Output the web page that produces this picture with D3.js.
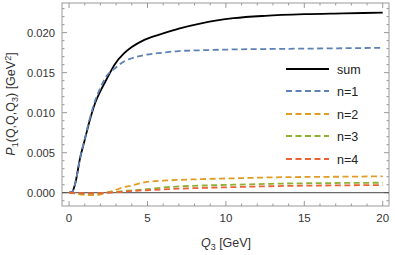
<!DOCTYPE html>
<html>
<head>
<meta charset="utf-8">
<script src="https://cdn.jsdelivr.net/npm/d3@7"></script>
<style>
body { margin: 0; background: #fff; }
text { font-family: "Liberation Sans", Arial, sans-serif; }
</style>
</head>
<body>
<script>
var q3 = [0, 0.2, 0.4, 0.7, 1.0, 1.3, 1.7, 2.0, 2.4, 2.9, 3.5, 4.0, 4.8, 6.0, 7.0, 8.5, 10.5, 12.5, 15, 17.5, 20];
var sum = [0, 0.0001, 0.0012, 0.0043, 0.0066, 0.0089, 0.0114, 0.0127, 0.0142, 0.0160, 0.0174, 0.0182, 0.0191, 0.0199, 0.0205, 0.0212, 0.0218, 0.0221, 0.0223, 0.0224, 0.0225];
var n1 = [0, 0.0001, 0.0012, 0.0043, 0.0067, 0.0091, 0.0117, 0.0131, 0.0146, 0.0155, 0.0164, 0.0168, 0.0172, 0.0175, 0.0177, 0.0178, 0.0179, 0.01795, 0.0180, 0.01805, 0.0181];
var n2 = [0, -0.00005, -0.0001, -0.0002, -0.00027, -0.0003, -0.0003, -0.00022, 0.0000, 0.0003, 0.0007, 0.0009, 0.0013, 0.0015, 0.0016, 0.0017, 0.0018, 0.0019, 0.00197, 0.0020, 0.00205];
var n3 = [0, -0.00002, -0.00005, -0.0001, -0.00012, -0.00012, -0.0001, -0.00006, 0.0000, 0.0001, 0.0002, 0.0003, 0.0004, 0.00065, 0.00078, 0.0009, 0.001, 0.0011, 0.00118, 0.00122, 0.00125];
var n4 = [0, -0.00001, -0.00003, -0.00006, -0.00008, -0.00008, -0.00006, -0.00004, 0.0000, 0.00005, 0.00012, 0.0002, 0.0003, 0.0004, 0.0005, 0.0006, 0.0007, 0.0008, 0.00088, 0.00092, 0.00096];

var seriesNames = ["sum", "n=1", "n=2", "n=3", "n=4"];
var seriesValues = [sum, n1, n2, n3, n4];
var seriesColors = ["#000000", "#5E81B5", "#E19C24", "#8FB032", "#EB6235"];

var xTicks = [0, 5, 10, 15, 20];
var yTicks = [0, 0.005, 0.010, 0.015, 0.020];

var W = 395, H = 255;
var pLeft = 62, pRight = 389, pTop = 3, pBottom = 206;

var svg = d3.select("body").append("svg").attr("width", W).attr("height", H);

var x = d3.scaleLinear().domain([-0.45, 20.4]).range([pLeft, pRight]);
var y = d3.scaleLinear().domain([-0.00166, 0.0237]).range([pBottom, pTop]);

var frameColor = "#999999";
var labelColor = "#333333";

// frame
svg.append("rect")
  .attr("x", pLeft).attr("y", pTop)
  .attr("width", pRight - pLeft).attr("height", pBottom - pTop)
  .attr("fill", "none").attr("stroke", frameColor).attr("stroke-width", 1);

// ticks on all sides, pointing inward
var xMinor = d3.range(0, 21, 1);
var yMinor = d3.range(-1, 24, 1).map(function(v){ return v / 1000; });

xMinor.forEach(function(v) {
  var major = xTicks.indexOf(v) >= 0;
  var len = major ? 5 : 2.5;
  svg.append("line").attr("x1", x(v)).attr("x2", x(v)).attr("y1", pBottom).attr("y2", pBottom - len)
    .attr("stroke", frameColor);
  svg.append("line").attr("x1", x(v)).attr("x2", x(v)).attr("y1", pTop).attr("y2", pTop + len)
    .attr("stroke", frameColor);
});
yMinor.forEach(function(v) {
  var major = Math.abs(Math.round(v * 1000) % 5) === 0;
  var len = major ? 5 : 2.5;
  svg.append("line").attr("x1", pLeft).attr("x2", pLeft + len).attr("y1", y(v)).attr("y2", y(v))
    .attr("stroke", frameColor);
  svg.append("line").attr("x1", pRight).attr("x2", pRight - len).attr("y1", y(v)).attr("y2", y(v))
    .attr("stroke", frameColor);
});

// tick labels
svg.selectAll("text.xt").data(xTicks).enter().append("text")
  .attr("class", "xt")
  .attr("x", function(d){ return x(d); })
  .attr("y", 222)
  .attr("text-anchor", "middle")
  .attr("font-size", 11.5)
  .attr("fill", labelColor)
  .text(function(d){ return d; });

svg.selectAll("text.yt").data(yTicks).enter().append("text")
  .attr("class", "yt")
  .attr("x", 55)
  .attr("y", function(d){ return y(d) + 4; })
  .attr("text-anchor", "end")
  .attr("font-size", 11.2)
  .attr("fill", labelColor)
  .text(function(d){ return d3.format(".3f")(d); });

// zero line
svg.append("line")
  .attr("x1", pLeft).attr("x2", pRight)
  .attr("y1", y(0)).attr("y2", y(0))
  .attr("stroke", "#444").attr("stroke-width", 1);

// curves
var line = d3.line()
  .x(function(d, i){ return x(q3[i]); })
  .y(function(d){ return y(d); })
  .curve(d3.curveMonotoneX);

var plot = svg.append("g");
seriesValues.forEach(function(vals, k) {
  plot.append("path")
    .attr("fill", "none")
    .attr("stroke", seriesColors[k])
    .attr("stroke-width", 1.8)
    .attr("stroke-dasharray", k === 0 ? null : "6,3.5")
    .attr("d", line(vals));
});

// legend
var legendY = [69, 91, 114, 136, 159];
seriesNames.forEach(function(name, k) {
  svg.append("line")
    .attr("x1", 286).attr("x2", 329)
    .attr("y1", legendY[k]).attr("y2", legendY[k])
    .attr("stroke", seriesColors[k])
    .attr("stroke-width", 1.8)
    .attr("stroke-dasharray", k === 0 ? null : "6,3.5");
  svg.append("text")
    .attr("x", 337).attr("y", legendY[k] + 4.5)
    .attr("font-size", 12.5)
    .attr("fill", "#222")
    .text(name);
});

// axis labels
var xl = svg.append("text")
  .attr("x", 226).attr("y", 247)
  .attr("text-anchor", "middle")
  .attr("font-size", 12.5)
  .attr("fill", labelColor);
xl.append("tspan").attr("font-style", "italic").text("Q");
xl.append("tspan").attr("font-size", 9).attr("dy", 2.5).text("3");
xl.append("tspan").attr("dy", -2.5).text(" [GeV]");

var yl = svg.append("text")
  .attr("transform", "translate(15,104) rotate(-90)")
  .attr("text-anchor", "middle")
  .attr("font-size", 12.5)
  .attr("fill", labelColor);
yl.append("tspan").attr("font-style", "italic").text("P");
yl.append("tspan").attr("font-size", 9).attr("dy", 2.5).text("1");
yl.append("tspan").attr("dy", -2.5).text("(Q,Q,Q");
yl.append("tspan").attr("font-size", 9).attr("dy", 2.5).text("3");
yl.append("tspan").attr("dy", -2.5).text(") [GeV");
yl.append("tspan").attr("font-size", 9).attr("dy", -4.5).text("2");
yl.append("tspan").attr("dy", 4.5).text("]");
</script>
</body>
</html>
